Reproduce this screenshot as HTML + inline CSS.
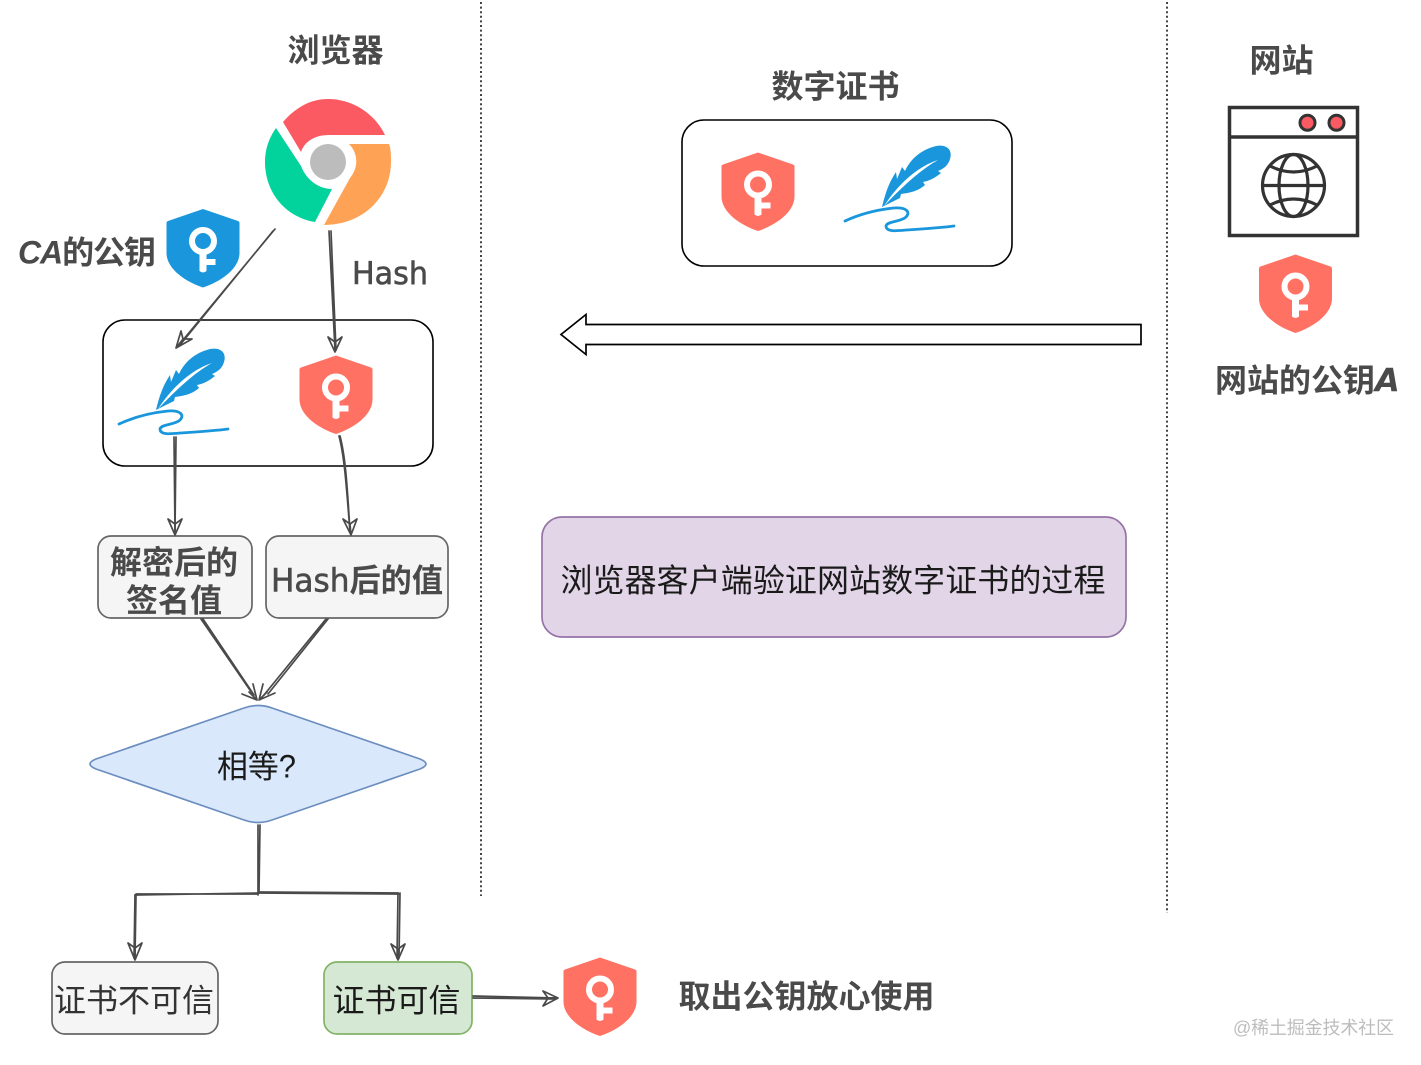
<!DOCTYPE html>
<html><head><meta charset="utf-8"><style>
html,body{margin:0;padding:0;background:#fff}
svg{display:block}
text{font-family:"Liberation Sans","Noto Sans CJK SC",sans-serif}
.b{font-weight:700;fill:#4a4a4a;font-size:32px}
.h{fill:#4a4a4a;stroke:#4a4a4a;stroke-width:.6px;font-family:"DejaVu Sans","Noto Sans CJK SC",sans-serif;font-weight:400}
.n{fill:#1a1a1a;font-size:32px}
.l{fill:none;stroke:#4a4a4a;stroke-width:1.7;stroke-linecap:round;stroke-linejoin:round}
</style></head><body>
<svg width="1421" height="1065" viewBox="0 0 1421 1065" xmlns="http://www.w3.org/2000/svg">
<defs>
<symbol id="shield" viewBox="0 0 74 80" overflow="visible">
<path d="M37 0 L72 12 Q73.500 12.500 73.500 14 L73.500 44 C73.500 60 54 73 37 78.500 C20 73 .5 60 .5 44 L.5 14 Q.5 12.500 2 12 Z"/>
<circle cx="37" cy="32" r="11" fill="none" stroke="#fff" stroke-width="6"/>
<path d="M33.500 42 H40.500 V50 H49.500 V56 H40.500 V62 Q37 65 33.500 62 Z" fill="#fff"/>
</symbol>
<symbol id="feather" viewBox="0 0 112 88" overflow="visible">
<path d="M38 62 C41 50 44 39 52 27 L53 34 L58 22 L61 26 C66 15 76 5 92 1 C102 -1 109 4 106 14 C104 21 99 24 94 26 L97 28 C91 33 85 36 79 37 L81 40 C73 47 64 48 57 49 L56 53 C50 56 44 59 38 62Z" fill="#1a97dc"/>
<path d="M40 61 C52 42 72 22 94 15 C76 25 58 42 40 61Z" fill="#fff"/>
<path d="M1 76 C14 70 30 65 50 63 C62 62 67 67 62 72 C57 77 43 76 42 81 C42 87 52 86 62 85 C78 84 95 83 110 81" fill="none" stroke="#1a97dc" stroke-width="2.800" stroke-linecap="round"/>
</symbol>
</defs>

<!-- dividers -->
<path d="M481 2V896M1167 2V913" stroke="#444" stroke-width="2" stroke-dasharray="2 2.600" fill="none"/>

<!-- headings -->
<text x="335.500" y="61.500" class="b" text-anchor="middle">浏览器</text>
<text x="835.500" y="97.500" class="b" text-anchor="middle">数字证书</text>
<text x="1281.500" y="71.500" class="b" text-anchor="middle">网站</text>
<text x="1215" y="391.500" class="b">网站的公钥<tspan font-family="DejaVu Sans" font-style="italic">A</tspan></text>
<text x="18" y="263.500" class="b" textLength="138"><tspan font-style="italic">CA</tspan>的公钥</text>
<text x="352" y="284" class="h" font-size="31" textLength="76" lengthAdjust="spacingAndGlyphs">Hash</text>
<text x="678.500" y="1007.500" class="b" textLength="256">取出公钥放心使用</text>

<!-- chrome -->
<circle cx="328" cy="162" r="18" fill="#bcbcbc"/>
<path d="M283 122 C297 106 312 99 328 99 C353 99 375 114 385 135 L329 135 C313 135 304 143 301 152 Z" fill="#fb5a63"/>
<path d="M276 128 L301 166 C306 179 318 189 332 189 L315 222 C285 217 265 192 265 162 C265 149 269 138 276 128 Z" fill="#02d29b"/>
<path d="M349 144 L389 144 C391 149 391 155 391 162 C391 196 364 225 324 225 L350 178 C359 167 358 153 349 144 Z" fill="#fea356"/>

<!-- shields -->
<use href="#shield" x="166" y="209" width="74" height="80" fill="#1a97dc"/>
<use href="#shield" x="721" y="152.500" width="74" height="80" fill="#ff7263"/>
<use href="#shield" x="299" y="355.500" width="74" height="80" fill="#ff7263"/>
<use href="#shield" x="1258.500" y="254.500" width="74" height="80" fill="#ff7263"/>
<use href="#shield" x="563" y="957.500" width="74" height="80" fill="#ff7263"/>

<!-- certificate box -->
<rect x="682" y="120" width="330" height="146" rx="22" fill="none" stroke="#000" stroke-width="1.600"/>
<use href="#feather" x="844" y="145" width="112" height="88"/>

<!-- browser inner box -->
<rect x="103" y="320" width="330" height="146" rx="22" fill="none" stroke="#000" stroke-width="1.600"/>
<use href="#feather" x="118" y="348" width="112" height="88"/>

<!-- website icon -->
<rect x="1229.500" y="107.500" width="128" height="128" fill="#fff" stroke="#333" stroke-width="3.500"/>
<path d="M1229 137H1358" stroke="#333" stroke-width="3.500"/>
<circle cx="1307.500" cy="122.800" r="7.500" fill="#fb5a63" stroke="#333" stroke-width="3"/>
<circle cx="1336.500" cy="122.800" r="7.500" fill="#fb5a63" stroke="#333" stroke-width="3"/>
<g fill="none" stroke="#333" stroke-width="3.200">
<circle cx="1293.500" cy="185.500" r="31"/>
<ellipse cx="1293.500" cy="185.500" rx="14.500" ry="31"/>
<path d="M1262.500 185.500H1324.500M1270 166Q1293.500 178 1317 166M1270 205Q1293.500 193 1317 205"/>
</g>

<!-- big arrow -->
<path d="M1141 324.500H586V314.500L561 334.500L586 354.500V344.500H1141Z" fill="#fff" stroke="#000" stroke-width="1.700"/>

<!-- purple box -->
<rect x="542" y="517" width="584" height="120" rx="20" fill="#e1d5e7" stroke="#9673a6" stroke-width="1.700"/>
<text x="833" y="591.500" class="n" text-anchor="middle" textLength="545">浏览器客户端验证网站数字证书的过程</text>

<!-- value boxes -->
<rect x="98" y="536" width="154" height="82" rx="13" fill="#f5f5f5" stroke="#666" stroke-width="1.700"/>
<text x="174" y="573.500" class="b" text-anchor="middle">解密后的</text>
<text x="174" y="611.500" class="b" text-anchor="middle">签名值</text>
<rect x="266" y="536" width="182" height="82" rx="13" fill="#f5f5f5" stroke="#666" stroke-width="1.700"/>
<text x="271" y="591.500" class="h" font-size="32" textLength="172" lengthAdjust="spacingAndGlyphs">Hash<tspan font-family="Noto Sans CJK SC" font-weight="700" style="stroke:none">后的值</tspan></text>

<!-- diamond -->
<path d="M244 708 Q258 703 272 708 L420 759 Q432 764 420 769 L272 820 Q258 825 244 820 L96 769 Q84 764 96 759 Z" fill="#dae8fc" stroke="#6c8ebf" stroke-width="1.700"/>
<text x="217" y="777.500" class="n" textLength="79" lengthAdjust="spacingAndGlyphs">相等?</text>

<!-- outcome boxes -->
<rect x="52" y="962" width="166" height="72" rx="13" fill="#f5f5f5" stroke="#666" stroke-width="1.700"/>
<text x="134" y="1011.500" class="n" text-anchor="middle" style="fill:#333">证书不可信</text>
<rect x="324" y="962" width="148" height="72" rx="13" fill="#d5e8d4" stroke="#82b366" stroke-width="1.700"/>
<text x="396.500" y="1011.500" class="n" text-anchor="middle">证书可信</text>

<!-- connectors -->
<g class="l">
<path d="M275 229 L178 346 M273 231 L180 345"/>
<path d="M176 348 L181 331 M176 348 L192 339 M176 348 L183 339 L192 339 M183 339 L181 331"/>
<path d="M329 231 L335 350 M331 231 L336 350"/>
<path d="M335 352 L328 337 M335 352 L342 337 M335 352 L335 342 L328 337 M335 342 L342 337"/>
<path d="M174 437 L175 532 M176 437 L175 532"/>
<path d="M175 535 L168 519 M175 535 L182 519 M175 535 L175 524 L168 519 M175 524 L182 519"/>
<path d="M339 436 C344 455 346 480 350 532 M340 436 C345 455 347 480 350 532"/>
<path d="M351 535 L343 519 M351 535 L357 519 M351 535 L350 524 L343 519 M350 524 L357 519"/>
<path d="M201 619 L252 693 M203 619 L254 695"/>
<path d="M257 700 L242 694 M257 700 L253 684 M257 700 L249 692"/>
<path d="M326 619 L264 695 M328 619 L268 694"/>
<path d="M259 700 L275 693 M259 700 L263 684 M259 700 L267 692"/>
<path d="M258 825 L258 893 M260 825 L259 893 M258 825 L258 895"/>
<path d="M259 893 L135 895 M258 894 L136 894"/>
<path d="M135 895 L134 958 M136 895 L135 958"/>
<path d="M135 960 L128 943 M135 960 L142 943 M135 960 L135 948 L128 943 M135 948 L142 943"/>
<path d="M259 892 L398 893 M258 893 L399 894"/>
<path d="M398 893 L397 958 M400 893 L399 958"/>
<path d="M398 960 L391 944 M398 960 L405 944 M398 960 L398 949 L391 944 M398 949 L405 944"/>
<path d="M473 996 L556 998 M473 998 L556 999"/>
<path d="M558 998 L543 991 M558 998 L543 1006 M558 998 L548 998 L543 991 M548 998 L543 1006"/>
</g>

<!-- watermark -->
<text x="1233" y="1034" font-size="18" fill="#bdbdbd" textLength="161">@稀土掘金技术社区</text>
</svg>
</body></html>
